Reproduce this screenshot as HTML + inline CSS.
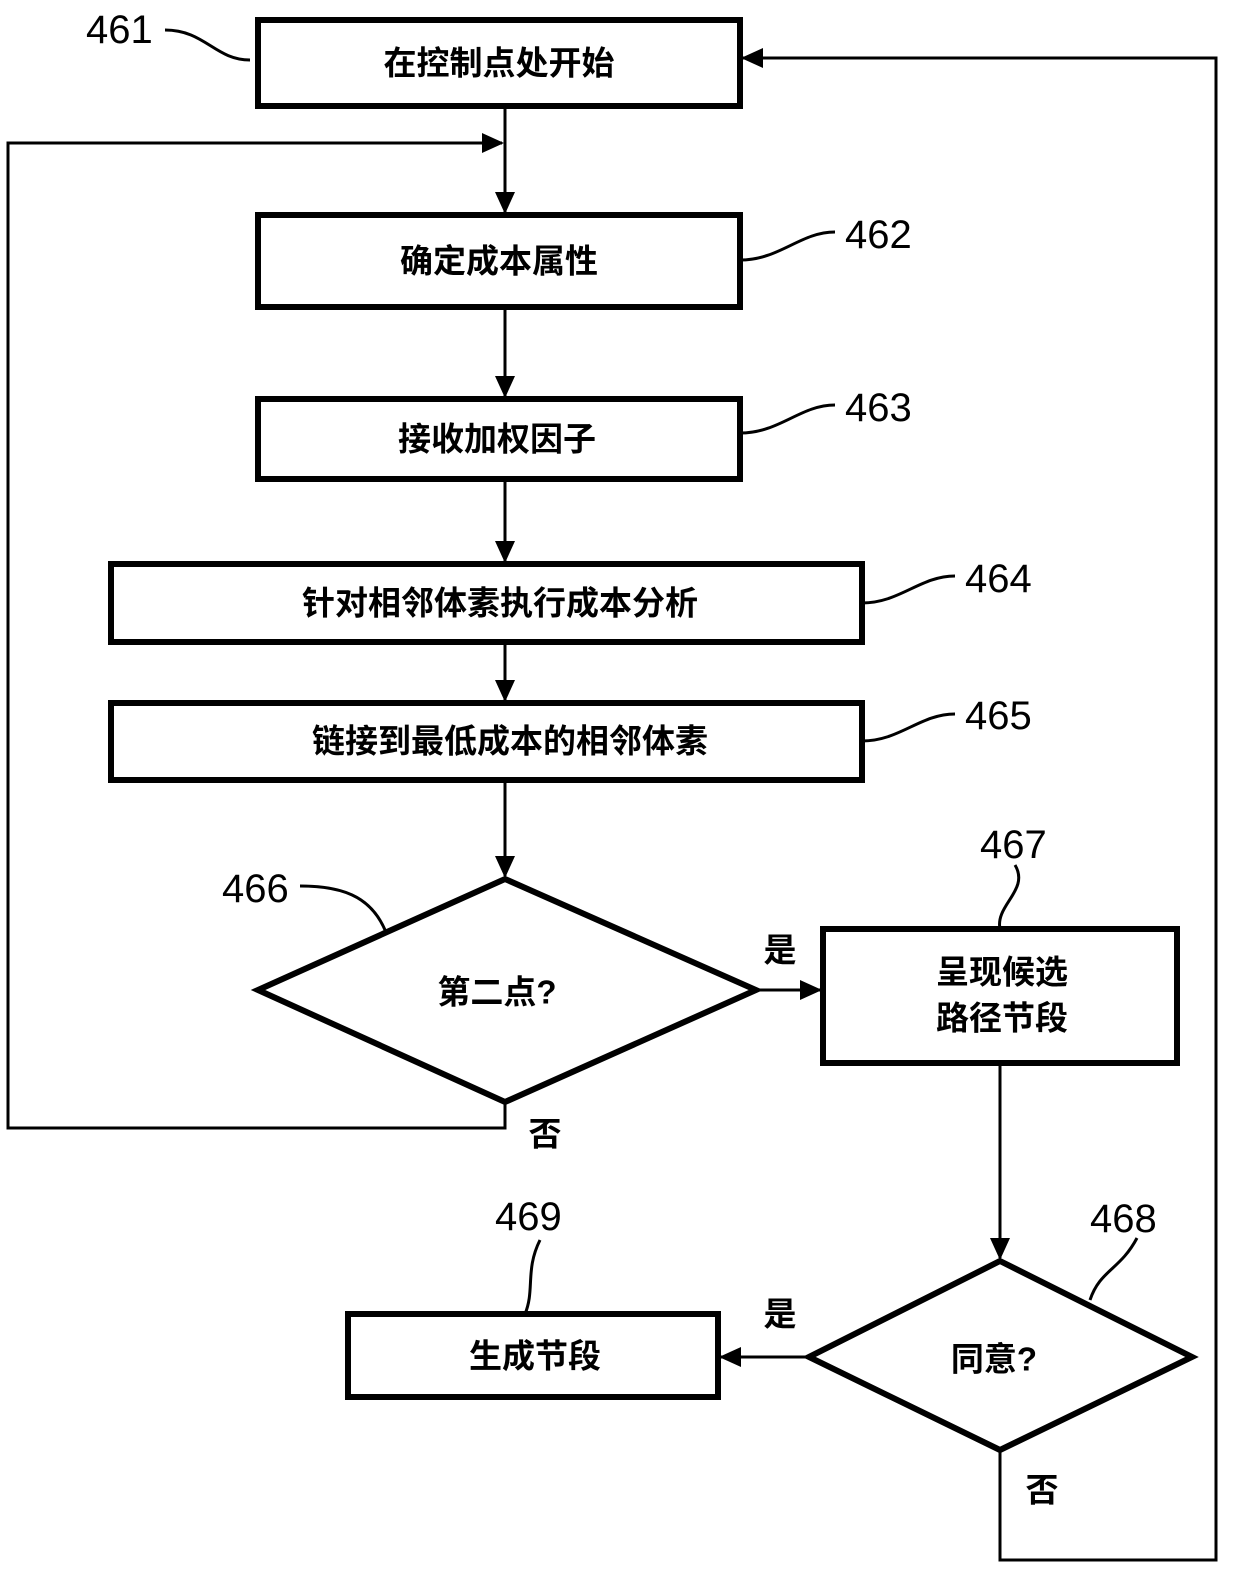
<!DOCTYPE html>
<html><head><meta charset="utf-8"><style>
html,body{margin:0;padding:0;background:#fff}
svg text{font-family:"Liberation Sans","Noto Sans CJK SC",sans-serif;fill:#000}
.t{font-size:33px;font-weight:bold;text-anchor:middle;dominant-baseline:central}
.n{font-size:40px}
</style></head><body>
<svg width="1240" height="1590" viewBox="0 0 1240 1590" xmlns="http://www.w3.org/2000/svg">
<defs><marker id="a" markerWidth="10" markerHeight="10" refX="9" refY="5" orient="auto" markerUnits="userSpaceOnUse" viewBox="0 0 10 10"><path d="M0,0 L10,5 L0,10z" fill="#000"/></marker>
<marker id="b" markerWidth="22" markerHeight="22" refX="20" refY="11" orient="auto" markerUnits="userSpaceOnUse" viewBox="0 0 22 22"><path d="M0,1 L22,11 L0,21z" fill="#000"/></marker></defs>
<g fill="none" stroke="#000" stroke-width="6">
<rect x="258" y="20" width="482" height="86"/>
<rect x="258" y="215" width="482" height="92"/>
<rect x="258" y="399" width="482" height="80"/>
<rect x="111" y="564" width="751" height="78"/>
<rect x="111" y="703" width="751" height="77"/>
<polygon points="505,879 756,990 505,1102 258,990"/>
<rect x="823" y="929" width="354" height="134"/>
<polygon points="1000,1261 1192,1357 1000,1450 809,1357"/>
<rect x="348" y="1314" width="370" height="83"/>
</g>
<g fill="none" stroke="#000" stroke-width="3">
<line x1="505" y1="106" x2="505" y2="212" marker-end="url(#b)"/>
<line x1="505" y1="307" x2="505" y2="396" marker-end="url(#b)"/>
<line x1="505" y1="479" x2="505" y2="561" marker-end="url(#b)"/>
<line x1="505" y1="642" x2="505" y2="700" marker-end="url(#b)"/>
<line x1="505" y1="780" x2="505" y2="876" marker-end="url(#b)"/>
<polyline points="505,1102 505,1128 8,1128 8,143 502,143" marker-end="url(#b)"/>
<line x1="756" y1="990" x2="820" y2="990" marker-end="url(#b)"/>
<line x1="1000" y1="1063" x2="1000" y2="1258" marker-end="url(#b)"/>
<line x1="809" y1="1357" x2="721" y2="1357" marker-end="url(#b)"/>
<polyline points="1000,1450 1000,1560 1216,1560 1216,58 743,58" marker-end="url(#b)"/>
<path d="M165,30 C205,30 215,60 250,60"/>
<path d="M740,260 C780,260 800,232 835,232"/>
<path d="M740,433 C780,433 800,405 835,405"/>
<path d="M862,603 C900,603 920,576 955,576"/>
<path d="M862,741 C900,741 920,714 955,714"/>
<path d="M300,886 C340,886 370,895 385,930"/>
<path d="M1015,865 C1030,890 995,905 1000,929"/>
<path d="M1137,1238 C1120,1270 1100,1270 1090,1300"/>
<path d="M540,1240 C525,1270 535,1290 525,1314"/>
</g>
<text class="n" x="86" y="43">461</text>
<text class="n" x="845" y="248">462</text>
<text class="n" x="845" y="421">463</text>
<text class="n" x="965" y="592">464</text>
<text class="n" x="965" y="729">465</text>
<text class="n" x="222" y="902">466</text>
<text class="n" x="980" y="858">467</text>
<text class="n" x="1090" y="1232">468</text>
<text class="n" x="495" y="1230">469</text>
<text class="t" x="499" y="63">在控制点处开始</text>
<text class="t" x="499" y="261">确定成本属性</text>
<text class="t" x="497" y="439">接收加权因子</text>
<text class="t" x="500" y="603">针对相邻体素执行成本分析</text>
<text class="t" x="510" y="741">链接到最低成本的相邻体素</text>
<text class="t" x="497" y="992">第二点?</text>
<text class="t" x="1002" y="972">呈现候选</text>
<text class="t" x="1002" y="1018">路径节段</text>
<text class="t" x="994" y="1359">同意?</text>
<text class="t" x="535" y="1356">生成节段</text>
<text class="t" x="780" y="950">是</text>
<text class="t" x="545" y="1134">否</text>
<text class="t" x="780" y="1314">是</text>
<text class="t" x="1042" y="1490">否</text>
</svg>
</body></html>
